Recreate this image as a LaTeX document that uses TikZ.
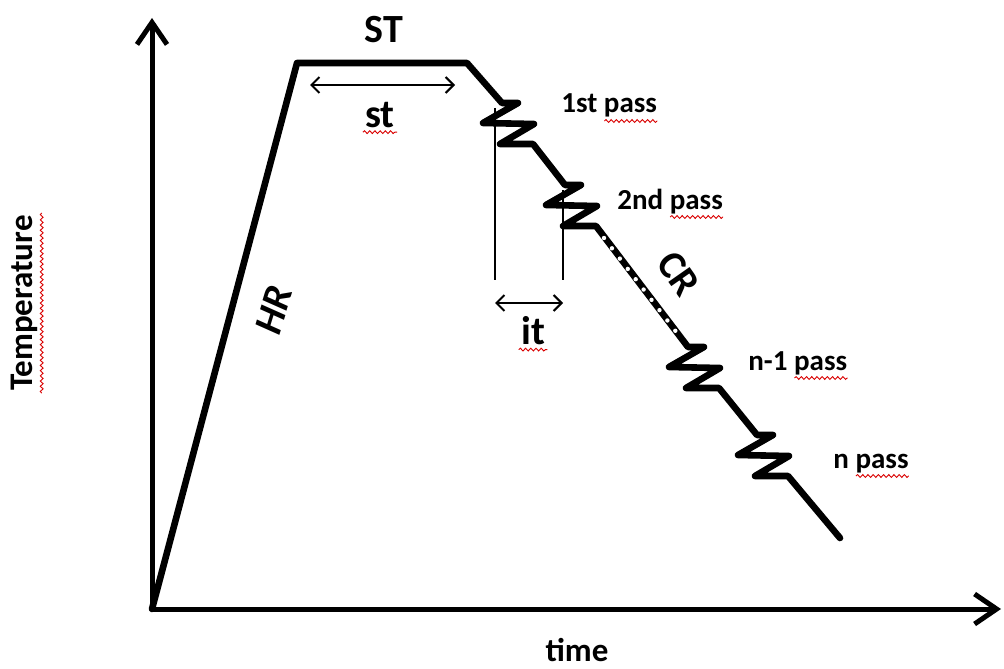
\documentclass[tikz,border=0pt]{standalone}
\usepackage{fontspec}
\setmainfont{Carlito}
\usetikzlibrary{arrows.meta,positioning,calc,decorations.pathmorphing}

\tikzset{
  profile/.style={line width=3.3pt, line join=round, line cap=round},
  axis/.style={line width=2.5pt, -{Straight Barb[length=11pt,width=15pt]}},
  guide/.style={line width=0.7pt},
  span/.style={line width=1pt, {Straight Barb[length=4pt,width=8pt]}-{Straight Barb[length=4pt,width=8pt]}},
  spell/.style={red!85!black, line width=0.45pt, decorate,
    decoration={snake, amplitude=0.7pt, segment length=2.6pt}},
  zigzag/.style={insert path={-- ++(16,0) -- ++(-35,20) -- ++(51,1) -- ++(-34,20) -- ++(33,0)}},
  biglbl/.style={font=\fontsize{20}{24}\selectfont\bfseries, inner sep=1pt},
  axislbl/.style={font=\fontsize{16.5}{20}\selectfont\bfseries, inner sep=1pt},
  passlbl/.style={font=\fontsize{14.5}{17}\selectfont\bfseries, anchor=base west, inner sep=0pt},
}

\begin{document}
\begin{tikzpicture}[x=0.5pt, y=-0.5pt]
  \useasboundingbox (0,0) rectangle (1004,668);

  % axes
  \coordinate (O) at (152,609);
  \coordinate (ytip) at (152,18);
  \coordinate (xtip) at (1001,609);
  \draw[axis] (O) -- (ytip);
  \draw[axis] (O) -- (xtip);
  \node[axislbl] (time) at (577,650) {time};
  \node[axislbl, rotate=90] (temp) at (24,303) {Temperature};

  % holding (st) and interpass (it) spans
  \coordinate (g1) at (495,108);
  \coordinate (g1b) at (495,280);
  \coordinate (g2) at (563,190);
  \coordinate (g2b) at (563,280);
  \draw[guide] (g1) -- (g1b);
  \draw[guide] (g2) -- (g2b);
  \coordinate (it1) at (495,303);
  \coordinate (it2) at (563,303);
  \draw[span] (it1) -- (it2);
  \coordinate (st1) at (310,85);
  \coordinate (st2) at (455,85);
  \draw[span] (st1) -- (st2);

  % thermal profile with the passes
  \coordinate (HRtop) at (297,63);
  \coordinate (STend) at (467,63);
  \coordinate (Z1) at (502,103);
  \coordinate (Z2) at (565,185);
  \coordinate (Z3) at (688,347);
  \coordinate (Z4) at (757,435);
  \coordinate (Tend) at (840,538);
  \draw[profile] (O) -- (HRtop) -- (STend) -- (Z1) [zigzag] -- (Z2) [zigzag]
    -- (Z3) [zigzag] -- (Z4) [zigzag] -- (Tend);
  \coordinate (d1) at (604,238);
  \coordinate (d2) at (677,333);
  \draw[white, line width=2.2pt, line cap=round, dash pattern=on 0pt off 6.5pt] (d1) -- (d2);

  % labels
  \node[biglbl] (ST) at (384,30) {ST};
  \node[biglbl] (st) at (380,115) {st};
  \node[biglbl] (it) at (533,331) {it};
  \node[biglbl, rotate=73] (HR) at (274,310) {\itshape HR};
  \node[biglbl, rotate=-55] (CR) at (679,274) {CR};
  \node[passlbl] (p1) at (561,113) {1st pass};
  \node[passlbl] (p2) at (617,209) {2nd pass};
  \node[passlbl] (p3) at (748,370) {n-1 pass};
  \node[passlbl] (p4) at (833,468) {n pass};

  % spell-check marks
  \draw[spell] ($(temp.south west)+(2,0)$) -- ($(temp.south east)+(2,0)$);
  \draw[spell] ($(st.south west)+(0,2)$) -- ($(st.south east)+(0,2)$);
  \draw[spell] ($(it.south west)+(0,2)$) -- ($(it.south east)+(0,2)$);
  \foreach \p in {p1,p2,p3,p4}
    \draw[spell] ($(\p.base east)+(-53,8)$) -- ($(\p.base east)+(0,8)$);
\end{tikzpicture}
\end{document}
